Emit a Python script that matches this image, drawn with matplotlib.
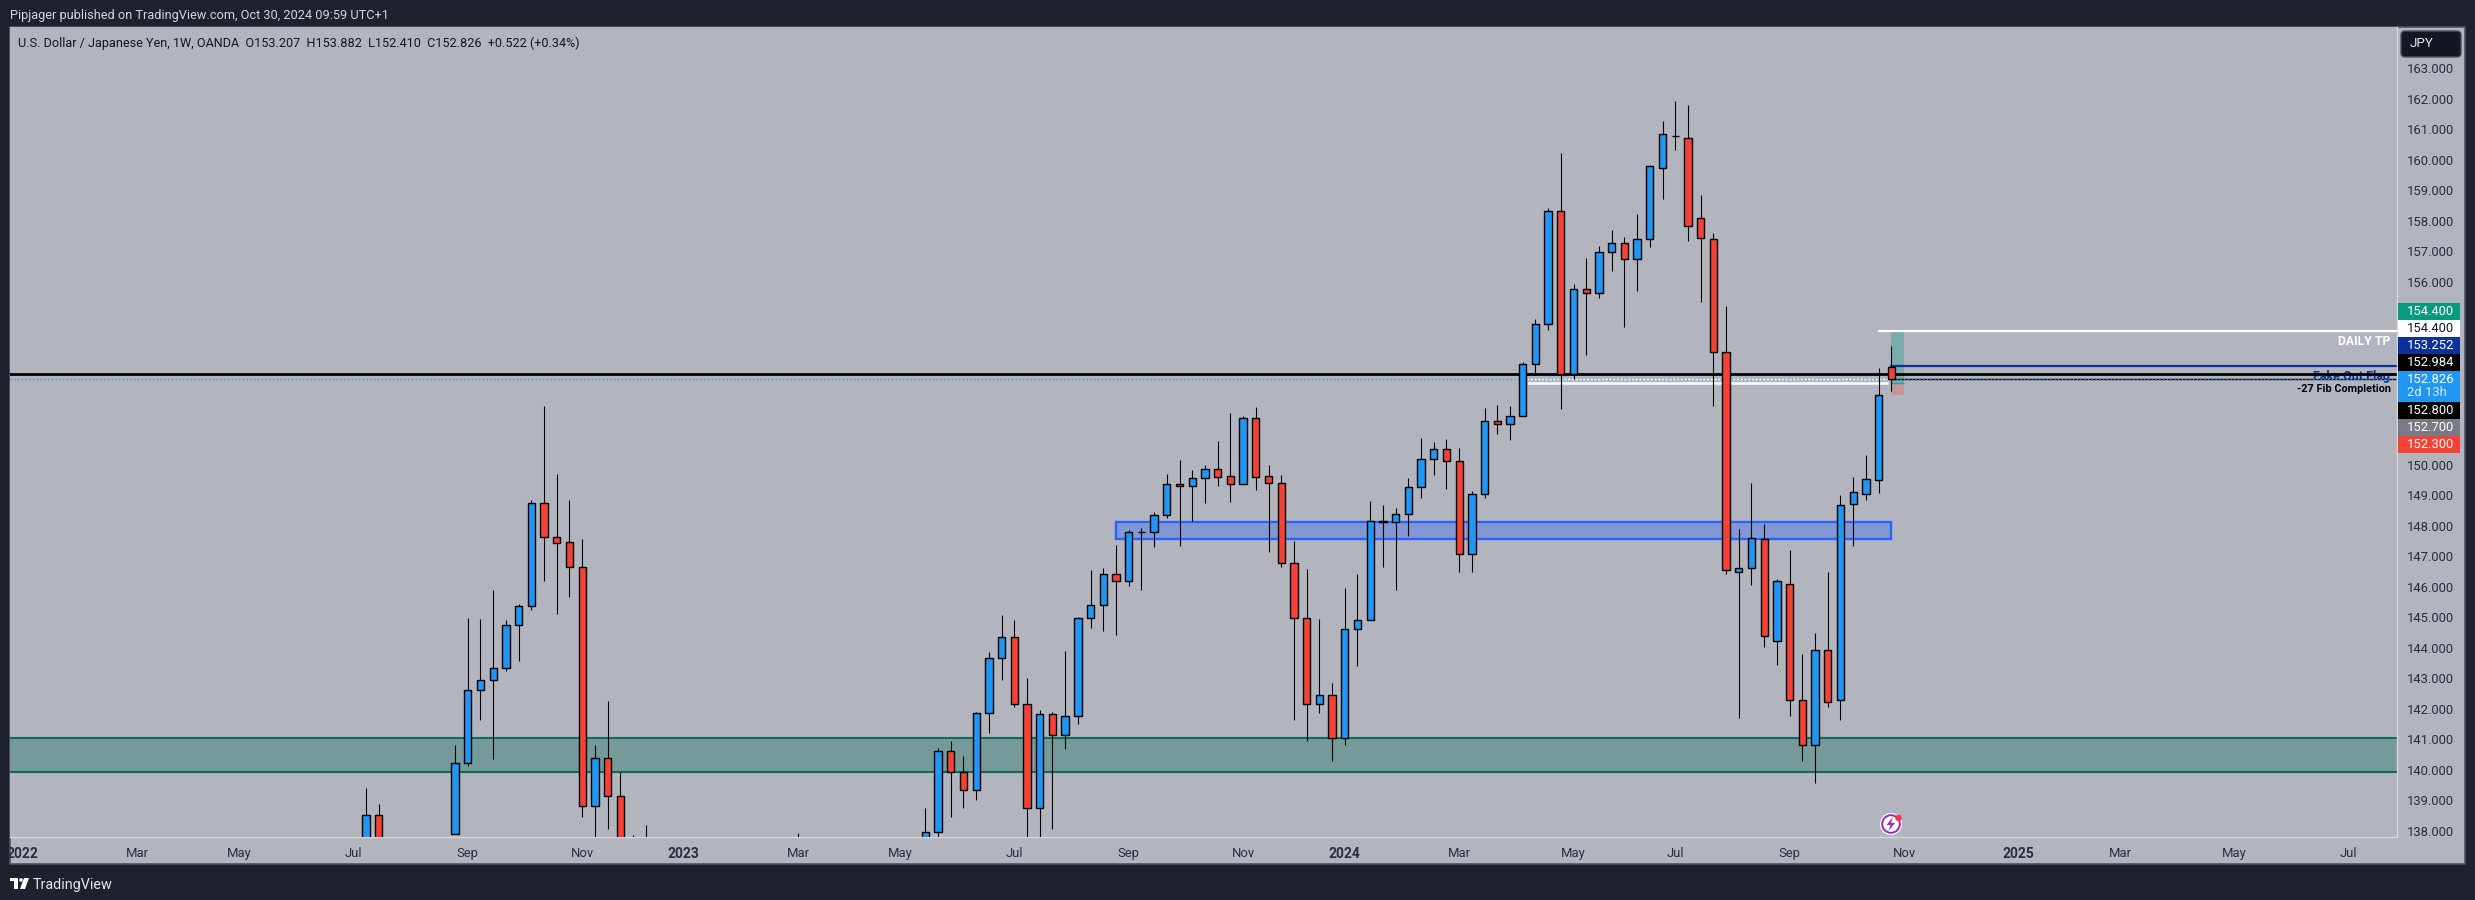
import numpy as np
import pandas as pd
import matplotlib
matplotlib.use("Agg")
import matplotlib.pyplot as plt
import matplotlib.dates as mdates
from matplotlib.patches import Rectangle, FancyBboxPatch, Circle, Polygon
from matplotlib.transforms import Affine2D

plt.rcParams['font.family'] = ['Roboto', 'DejaVu Sans']
nan = float('nan')

# ---------- weekly OHLC, Jul 11 2022 .. Oct 28 2024 (nan = week wholly below the visible scale)
first_week = '2022-07-11'
last_week = '2024-10-28'
opens = [136.0, 138.51, nan, nan, nan, nan, nan, 137.9, 140.21, 142.61, 142.93, 143.33, 144.74, 145.36,
         148.74, 147.62, 147.46, 146.64, 138.82, 140.38, 139.15, 134.3, 136.6,
         nan, nan, nan, nan, nan, nan, nan, nan, nan, nan, nan, 135.9, nan, nan, nan, nan, nan, nan, nan, nan, nan,
         135.7, 137.95, 140.60, 139.94, 139.35, 141.85, 143.65, 144.34, 142.14, 138.76, 141.82, 141.15, 141.75,
         144.97, 145.39, 146.41, 146.20, 147.80, 147.81, 148.34, 149.37, 149.29, 149.56, 149.85, 149.62, 149.36,
         151.53, 149.62, 149.42, 146.77, 144.97, 142.14, 142.44, 141.03, 144.61, 144.90, 148.15, 148.14, 148.38,
         149.26, 150.18, 150.51, 150.12, 147.07, 149.03, 151.43, 151.33, 151.59, 153.30, 154.61, 158.31, 152.97,
         155.76, 155.63, 156.97, 157.27, 156.74, 157.40, 159.75, 160.78, 160.71, 158.09, 157.40, 153.71, 146.47,
         146.61, 147.56, 144.21, 146.08, 142.28, 140.80, 143.92, 142.28, 148.70, 149.06, 149.49, 153.207]
closes = [138.51, 136.1, nan, nan, nan, nan, nan, 140.21, 142.61, 142.93, 143.33, 144.74, 145.36, 148.74,
          147.62, 147.45, 146.64, 138.82, 140.38, 139.15, 134.3, 136.7, 136.7,
          nan, nan, nan, nan, nan, nan, nan, nan, nan, nan, nan, 135.0, nan, nan, nan, nan, nan, nan, nan, nan, nan,
          137.95, 140.60, 139.94, 139.35, 141.85, 143.65, 144.34, 142.14, 138.76, 141.82, 141.15, 141.75, 144.97,
          145.39, 146.41, 146.20, 147.79, 147.81, 148.34, 149.37, 149.29, 149.56, 149.85, 149.61, 149.36, 151.53,
          149.61, 149.42, 146.77, 144.97, 142.14, 142.44, 141.03, 144.61, 144.90, 148.15, 148.14, 148.38, 149.26,
          150.18, 150.51, 150.12, 147.07, 149.03, 151.43, 151.33, 151.59, 153.30, 154.61, 158.31, 152.97, 155.76,
          155.63, 156.97, 157.27, 156.74, 157.40, 159.79, 160.84, 160.78, 157.85, 157.45, 153.71, 146.54, 146.61,
          147.59, 144.38, 146.18, 142.30, 140.80, 143.92, 142.21, 148.67, 149.10, 149.53, 152.28, 152.826]
highs = [139.40, 138.88, nan, nan, nan, nan, nan, 140.81, 144.98, 144.95, 145.90, 144.91, 145.44, 148.85,
         151.93, 149.70, 148.85, 147.57, 140.81, 142.26, 139.91, 137.86, 138.19,
         nan, nan, nan, nan, nan, nan, nan, nan, nan, nan, nan, 137.93, nan, nan, nan, nan, nan, nan, nan, nan, nan,
         138.75, 140.70, 140.94, 140.45, 141.90, 143.85, 145.07, 144.91, 143.01, 141.96, 141.90, 143.90, 145.01,
         146.55, 146.61, 147.37, 147.86, 147.92, 148.44, 149.70, 150.15, 149.83, 150.00, 150.77, 151.69, 151.60,
         151.90, 150.00, 149.67, 147.50, 146.59, 144.94, 142.85, 145.95, 146.42, 148.81, 148.68, 148.57, 149.56,
         150.88, 150.74, 150.85, 150.55, 149.14, 151.87, 151.96, 151.93, 153.36, 154.78, 158.41, 160.22, 155.92,
         156.78, 157.18, 157.70, 157.47, 158.23, 159.83, 161.28, 161.93, 161.80, 158.85, 157.60, 155.20, 147.90,
         149.39, 148.06, 146.26, 147.21, 143.80, 144.49, 146.49, 149.01, 149.60, 150.32, 153.18, 153.882]
lows = [135.9, 135.6, nan, nan, nan, nan, nan, 137.9, 140.12, 141.63, 140.35, 143.25, 143.55, 145.24,
        146.19, 145.11, 145.68, 138.46, 137.67, 138.06, 133.6, 134.1, 134.5,
        nan, nan, nan, nan, nan, nan, nan, nan, nan, nan, nan, 134.1, nan, nan, nan, nan, nan, nan, nan, nan, nan,
        135.6, 137.7, 138.46, 138.75, 139.01, 141.20, 142.94, 142.07, 137.3, 137.6, 138.07, 140.68, 141.50,
        144.65, 144.55, 144.42, 146.03, 145.90, 147.31, 148.27, 147.35, 148.16, 148.76, 149.31, 148.78, 149.36,
        149.19, 147.15, 146.66, 141.63, 140.95, 141.87, 140.27, 140.82, 143.41, 144.90, 146.66, 145.91, 147.65,
        148.92, 149.67, 149.21, 146.50, 146.50, 148.92, 151.01, 150.82, 151.59, 153.00, 154.42, 151.84, 152.80,
        153.60, 155.47, 156.36, 154.52, 155.70, 157.15, 158.72, 160.33, 157.34, 155.34, 151.93, 146.43, 141.71,
        146.06, 144.04, 143.44, 141.76, 140.30, 139.58, 142.07, 141.64, 147.35, 148.85, 149.09, 152.410]

# ---------- levels and zones
green_zone = (139.93, 141.05)
blue_zone = (147.57, 148.11)
blue_zone_span = ('2023-08-28', '2024-10-28')
tp_level = 154.4
navy_level = 153.252
black_level = 152.984
last_price = 152.826
fib_level = 152.8
white_level = 152.7
stop_level = 152.3

# ---------- axis labels
price_ticks = [163, 162, 161, 160, 159, 158, 157, 156, 150, 149, 148, 147, 146, 145, 144, 143, 142, 141,
               140, 139, 138]
month_ticks = ['2022-03-07', '2022-05-02', '2022-07-04', '2022-09-05', '2022-11-07', '2023-03-06', '2023-05-01',
               '2023-07-03', '2023-09-04', '2023-11-06', '2024-03-04', '2024-05-06', '2024-07-01', '2024-09-02',
               '2024-11-04', '2025-03-03', '2025-05-05', '2025-07-07']
month_labels = ['Mar', 'May', 'Jul', 'Sep', 'Nov', 'Mar', 'May', 'Jul', 'Sep', 'Nov', 'Mar', 'May', 'Jul', 'Sep',
                'Nov', 'Mar', 'May', 'Jul']
year_ticks = ['2022-01-03', '2023-01-02', '2024-01-01', '2025-01-06']
year_labels = ['2022', '2023', '2024', '2025']

price_tags = [('154.400', '#089981', '#ffffff'), ('154.400', '#ffffff', '#131722'), ('153.252', '#0c3299', '#ffffff'),
              ('152.984', '#000000', '#ffffff')]
price_tags2 = [('152.800', '#000000', '#ffffff'), ('152.700', '#787b86', '#ffffff'), ('152.300', '#f44336', '#ffffff')]

BG = '#1e222d'
PANEL = '#b2b5be'
W, H = 2475, 900
fig = plt.figure(figsize=(W / 100, H / 100), dpi=100, facecolor=BG)
T = Affine2D().scale(1, -1).translate(0, H)   # picture pixels, y downward, for chrome only


def add(patch):
    patch.set_transform(T)
    fig.add_artist(patch)
    return patch


def label(x, y, s, **kw):
    kw.setdefault('va', 'center')
    return fig.text(x, y, s, transform=T, **kw)


add(Rectangle((10, 27), 2455, 837, facecolor=PANEL, edgecolor='#50535e', lw=1.2, zorder=-5))

ax = fig.add_axes([10 / W, 1 - 837 / H, (2397 - 10) / W, (837 - 27) / H], facecolor=PANEL)
dates = pd.date_range(first_week, last_week, freq='7D')
x = mdates.date2num(dates)
px_per_day = 12.71 / 7
x_last = x[-1]
ax.set_xlim(x_last - (1891.3 - 10) / px_per_day, x_last + (2397 - 1891.3) / px_per_day)
y_unit = 30.49
ax.set_ylim(138 - (837 - 830.7) / y_unit, 163 + (68.5 - 27) / y_unit)

o, h, l, c = map(np.array, (opens, highs, lows, closes))
up = c >= o
ok = ~np.isnan(o)

# zones
ax.axhspan(*green_zone, facecolor='#769a99', edgecolor='none', zorder=1)
for v in green_zone:
    ax.axhline(v, color='#0e6b5d', lw=1.5, zorder=1.2)
bx0, bx1 = mdates.date2num(pd.to_datetime(blue_zone_span))
ax.add_patch(Rectangle((bx0, blue_zone[0]), bx1 - bx0, blue_zone[1] - blue_zone[0], facecolor='#8298d4',
                       edgecolor='#2962ff', lw=1.7, zorder=1.3))

# position box at the chart's end
box0 = x_last - 0.2
box1 = x_last + 7
ax.add_patch(Rectangle((box0, white_level), box1 - box0, tp_level - white_level, facecolor='#7aabad',
                       edgecolor='none', zorder=1.4))
ax.add_patch(Rectangle((box0, stop_level), box1 - box0, white_level - stop_level, facecolor='#c49599',
                       edgecolor='none', zorder=1.4))
ax.hlines(white_level, box0, box1, color='#3f9c93', lw=1, zorder=1.5)

# drawn levels
ax.hlines(tp_level, x_last - 7.4, ax.get_xlim()[1], color='white', lw=1.6, zorder=2)
ax.hlines(navy_level, x_last - 0.5, ax.get_xlim()[1], color='#0c3299', lw=1.6, zorder=2)
ax.hlines(fib_level, x_last, ax.get_xlim()[1], color='black', lw=1, zorder=2)
ax.hlines(fib_level, x_last - 28.7 * 7, x_last - 2, color='white', lw=1, zorder=2)
ax.hlines(white_level, x_last - 28.7 * 7, x_last - 2, color='white', lw=1.8, zorder=2)
ax.axhline(black_level, color='black', lw=2.0, zorder=2.5)
ax.axhline(last_price, color='#2196f3', lw=0.9, ls=(0, (1, 2)), zorder=2.6)

# candles
ax.vlines(x[ok], l[ok], h[ok], color='black', lw=0.8, zorder=3)
body_w = 7.3 / px_per_day
ax.bar(x[ok], np.abs(c - o)[ok], bottom=np.minimum(o, c)[ok], width=body_w,
       color=np.where(up, '#2196f3', '#f44336')[ok], edgecolor='black', linewidth=1.0, zorder=4)

# axes
for s in ('top', 'left'):
    ax.spines[s].set_visible(False)
for s in ('right', 'bottom'):
    ax.spines[s].set_color('#d6d8de')
    ax.spines[s].set_linewidth(1.0)
ax.yaxis.tick_right()
ax.set_yticks(price_ticks, [f'{v:.3f}' for v in price_ticks])
ax.tick_params(axis='y', length=0, pad=7, labelsize=9.4, labelcolor='#2a2e39')
ax.set_xticks(mdates.date2num(pd.to_datetime(month_ticks)), month_labels)
ax.set_xticks(mdates.date2num(pd.to_datetime(year_ticks)), year_labels, minor=True)
ax.tick_params(axis='x', which='both', length=0, pad=7.5, labelsize=9.4, labelcolor='#2a2e39')
for t in ax.get_xticklabels(minor=True):
    t.set_fontweight('bold')
    t.set_fontsize(10)

# price tags on the axis
y0, y_step = 303, 17
for i, (s, bg, fg) in enumerate(price_tags):
    add(Rectangle((2398, y0 + i * y_step), 62, y_step, facecolor=bg, edgecolor='none', zorder=6))
    label(2407, y0 + i * y_step + 8.5, s, color=fg, fontsize=9.4, ha='left', zorder=7)
add(Rectangle((2398, 371), 62, 31, facecolor='#2196f3', edgecolor='none', zorder=6))
label(2407, 379.5, f'{last_price:.3f}', color='white', fontsize=9.4, ha='left', zorder=7)
label(2407, 393, '2d 13h', color='#d7ebfc', fontsize=9.4, ha='left', zorder=7)
for i, (s, bg, fg) in enumerate(price_tags2):
    add(Rectangle((2398, 402 + i * y_step), 62, y_step, facecolor=bg, edgecolor='none', zorder=6))
    label(2407, 402 + i * y_step + 8.5, s, color=fg, fontsize=9.4, ha='left', zorder=7)

# JPY button
add(FancyBboxPatch((2403, 33), 56, 22, boxstyle='round,pad=2,rounding_size=4', facecolor='#131722',
                   edgecolor='#50535e', lw=1, zorder=6))
label(2410, 43.5, 'JPY', color='#e8e9ec', fontsize=9.6, ha='left', zorder=7)

# header texts
label(10, 16, 'Pipjager published on TradingView.com, Oct 30, 2024 09:59 UTC+1', color='#d1d4dc', fontsize=9.2)
label(18, 43, 'U.S. Dollar / Japanese Yen, 1W, OANDA  O153.207  H153.882  L152.410  C152.826  +0.522 (+0.34%)',
      color='#131722', fontsize=9.1)

# annotations (below the level lines, as the reference's are crossed by them)
ax_label = dict(transform=T, va='center', ha='right', zorder=2.2, clip_on=False)
ax.text(2390, 341.5, 'DAILY TP', color='white', fontsize=8.8, fontweight='bold', **ax_label)
ax.text(2390, 376.5, 'Fake Out Flag', color='#0c3299', fontsize=9.0, fontweight='bold', **ax_label)
ax.text(2391, 388.5, '-27 Fib Completion', color='black', fontsize=7.8, fontweight='bold', **ax_label)

# bolt icon
add(Circle((1891, 824), 11, facecolor='white', edgecolor='none', zorder=6))
add(Circle((1891, 824), 8.8, facecolor='none', edgecolor='#9c27b0', lw=1.4, zorder=7))
add(Polygon([(1893, 817), (1886.5, 825), (1890.5, 825), (1888.5, 831), (1895, 823), (1891, 823)],
            facecolor='#9c27b0', edgecolor='none', zorder=8))
add(Circle((1898.5, 818), 3.2, facecolor='#f23645', edgecolor='none', zorder=9))

# TradingView mark
add(Rectangle((10, 878), 8, 3, facecolor='white', edgecolor='none'))
add(Rectangle((14, 878), 4, 11, facecolor='white', edgecolor='none'))
add(Circle((21, 880), 1.8, facecolor='white', edgecolor='none'))
add(Polygon([(24, 878), (29, 878), (25, 889), (20, 889)], facecolor='white', edgecolor='none'))
label(33, 884.5, 'TradingView', color='#e6e7ea', fontsize=10.4)

fig.savefig('out.png', dpi=100, facecolor=BG)
